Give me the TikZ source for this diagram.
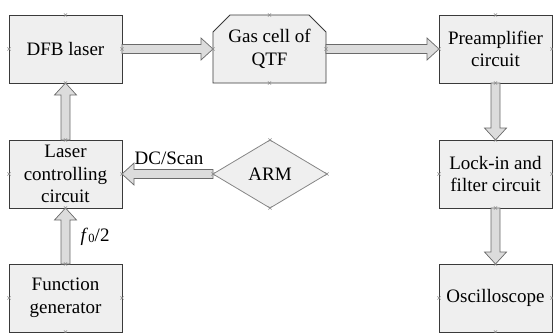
\documentclass[tikz,border=0pt]{standalone}
\usepackage{fontspec}
\setmainfont{LiberationSerif}[Extension=.ttf, UprightFont=*-Regular, ItalicFont=*-Italic, BoldFont=*-Bold, BoldItalicFont=*-BoldItalic]
\usetikzlibrary{calc,shapes.geometric,backgrounds}

\definecolor{boxfill}{HTML}{EFEFEF}
\definecolor{boxline}{HTML}{3A3A3A}
\definecolor{diamline}{HTML}{858585}
\definecolor{arrfill}{HTML}{DCDCDC}
\definecolor{arrline}{HTML}{6A6A6A}
\definecolor{mkcol}{HTML}{8C8C8C}

% fat block arrow from #1 to #2 (tip at #2)
\newcommand\blockarrow[2]{%
  \coordinate (ba-h) at ($(#2)!12pt!(#1)$);
  \filldraw[fatarrow]
    ($(#1)!4.5pt!90:(#2)$) -- ($(ba-h)!4.5pt!90:(#2)$) -- ($(ba-h)!11pt!90:(#2)$)
    -- (#2)
    -- ($(ba-h)!11pt!-90:(#2)$) -- ($(ba-h)!4.5pt!-90:(#2)$) -- ($(#1)!4.5pt!-90:(#2)$)
    -- cycle;}

% small connection-point cross
\newcommand\cpmark[1]{%
  \draw[mkcol, line width=0.5pt]
    ($(#1)+(-1.6,-1.6)$) -- ($(#1)+(1.6,1.6)$)
    ($(#1)+(-1.6,1.6)$) -- ($(#1)+(1.6,-1.6)$);}

\begin{document}
\begin{tikzpicture}[x=1pt, y=-1pt,
  txt/.style={font=\rmfamily\fontsize{19}{22.5}\selectfont, align=center},
  box/.style={txt, draw=boxline, fill=boxfill, line width=0.9pt,
    minimum width=113pt, minimum height=68pt, inner sep=0pt, outer sep=0pt},
  plainbox/.style={txt, minimum width=113pt, minimum height=68pt,
    inner sep=0pt, outer sep=0pt},
  decision/.style={txt, diamond, draw=diamline, fill=boxfill, line width=0.8pt,
    aspect=1.68, minimum width=114pt, minimum height=68pt, inner sep=0pt, outer sep=0pt},
  fatarrow/.style={draw=arrline, fill=arrfill, line width=0.7pt, line join=miter},
  lbl/.style={font=\rmfamily\fontsize{19}{22}\selectfont, inner sep=0pt}
]
\useasboundingbox (0,0) rectangle (553,332);

% blocks
\node[box] (dfb) at (65.5,49) {DFB laser};
\node[plainbox] (gas) at (269.5,49) {Gas cell of\\QTF};
\node[box] (pre) at (495.5,49) {Preamplifier\\circuit};
\node[box] (lcc) at (65.5,174) {Laser\\controlling\\circuit};
\node[decision] (arm) at (270,174) {ARM};
\node[box] (lock) at (495.5,174) {Lock-in and\\filter circuit};
\node[box] (fg) at (65.5,298) {Function\\generator};
\node[box] (osc) at (495.5,298) {Oscilloscope};

% gas cell outline with chamfered top corners
\begin{scope}[on background layer]
  \filldraw[draw=boxline, fill=boxfill, line width=0.9pt, line join=miter]
    (gas.south west) -- ($(gas.north west)+(0,17)$) -- ($(gas.north west)+(17,0)$)
    -- ($(gas.north east)+(-17,0)$) -- ($(gas.north east)+(0,17)$)
    -- (gas.south east) -- cycle;
\end{scope}

% signal flow
\blockarrow{dfb.east}{gas.west}
\blockarrow{gas.east}{pre.west}
\blockarrow{pre.south}{lock.north}
\blockarrow{lock.south}{osc.north}
\blockarrow{lcc.north}{dfb.south}
\blockarrow{fg.north}{lcc.south}
\blockarrow{arm.west}{lcc.east}

% labels
\node[lbl] (dcscan) at (169,158) {DC/Scan};
\node[lbl] (fhalf) at (95,237) {\textit{f}\kern0.5pt\raisebox{-0.6pt}{\fontsize{12.5}{12.5}\selectfont 0}/2};

% connection points
\foreach \n in {dfb,gas,pre,lcc,arm,lock,fg,osc}
  \foreach \a in {north,south,east,west}
    {\cpmark{\n.\a}}
\end{tikzpicture}
\end{document}
